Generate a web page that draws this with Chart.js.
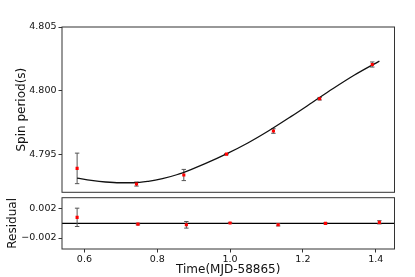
<!DOCTYPE html>
<html>
<head>
<meta charset="utf-8">
<script src="https://cdn.jsdelivr.net/npm/chart.js@4/dist/chart.umd.min.js"></script>
<style>
  html, body { margin: 0; padding: 0; background: #fff; }
  #wrap { position: relative; width: 415px; height: 277px; overflow: hidden; }
  #mainBox { position: absolute; left: 0; top: 0; width: 415px; height: 200px; }
  #resBox { position: absolute; left: 0; top: 190px; width: 415px; height: 87px; }
</style>
</head>
<body>
<div id="wrap">
  <div id="mainBox"><canvas id="mainChart"></canvas></div>
  <div id="resBox"><canvas id="resChart"></canvas></div>
</div>
<script>
// ---------- Data ----------
var timeDays = [0.580, 0.747, 0.880, 1.000, 1.132, 1.262, 1.410];
var spinPeriod = [4.79388, 4.79265, 4.79336, 4.79500, 4.79682, 4.79936, 4.80205];
var spinErr = [0.00120, 0.00016, 0.00044, 0.00005, 0.00018, 0.00010, 0.00020];
var residual = [0.00082, -0.00010, -0.00020, 0.00005, -0.00020, 0.00000, 0.00014];
var residualErr = [0.00125, 0.00010, 0.00045, 0.00003, 0.00015, 0.00008, 0.00022];

// fitted model curve, sampled by eye
var fitTime = [0.58, 0.62, 0.66, 0.70, 0.74, 0.78, 0.82, 0.86, 0.90, 0.94, 1.00, 1.06, 1.12, 1.18, 1.24, 1.30, 1.36, 1.43];
var fitPeriod = [4.79312, 4.79294, 4.79281, 4.79275, 4.79275, 4.79286, 4.79307, 4.79338, 4.79379, 4.79425,
                 4.79502, 4.79588, 4.79686, 4.79793, 4.79904, 4.80016, 4.80122, 4.80232];

// ticks
var periodTicks = [4.795, 4.800, 4.805];
var periodTickLabels = ['4.795', '4.800', '4.805'];
var residualTicks = [0.002, -0.002];
var residualTickLabels = ['0.002', '\u22120.002'];
var timeTicks = [0.6, 0.8, 1.0, 1.2, 1.4];
var timeTickLabels = ['0.6', '0.8', '1.0', '1.2', '1.4'];

// axis limits
var mainXRange = [0.5375, 1.4725];
var resXRange = [0.5385, 1.4515];
var periodRange = [4.792, 4.805];
var residualRange = [-0.0035, 0.0035];

var FONT = 'DejaVu Sans';
var AXIS_COLOR = '#333';

// ---------- Plugins ----------
// box round the plot area, like matplotlib spines
var framePlugin = {
    id: 'frame',
    afterDraw: function(chart) {
        var a = chart.chartArea;
        var ctx = chart.ctx;
        ctx.save();
        ctx.strokeStyle = AXIS_COLOR;
        ctx.lineWidth = 1;
        ctx.strokeRect(a.left, a.top, a.right - a.left, a.bottom - a.top);
        ctx.restore();
    }
};

// vertical error bars with caps, drawn under the points
var errorBarPlugin = {
    id: 'errorBars',
    beforeDatasetsDraw: function(chart) {
        var ctx = chart.ctx;
        var xs = chart.scales.x;
        var ys = chart.scales.y;
        ctx.save();
        ctx.strokeStyle = '#555';
        ctx.lineWidth = 1;
        chart.data.datasets.forEach(function(ds) {
            if (!ds.errors) return;
            ds.data.forEach(function(pt, i) {
                var e = ds.errors[i];
                var px = xs.getPixelForValue(pt.x);
                var top = ys.getPixelForValue(pt.y + e);
                var bot = ys.getPixelForValue(pt.y - e);
                ctx.beginPath();
                ctx.moveTo(px, top);
                ctx.lineTo(px, bot);
                ctx.moveTo(px - 2.2, top);
                ctx.lineTo(px + 2.2, top);
                ctx.moveTo(px - 2.2, bot);
                ctx.lineTo(px + 2.2, bot);
                ctx.stroke();
            });
        });
        ctx.restore();
    }
};

// zero line across the residual panel
var zeroLinePlugin = {
    id: 'zeroLine',
    beforeDatasetsDraw: function(chart) {
        var a = chart.chartArea;
        var y0 = chart.scales.y.getPixelForValue(0);
        var ctx = chart.ctx;
        ctx.save();
        ctx.strokeStyle = '#000';
        ctx.lineWidth = 1.3;
        ctx.beginPath();
        ctx.moveTo(a.left, y0);
        ctx.lineTo(a.right, y0);
        ctx.stroke();
        ctx.restore();
    }
};

function toPoints(xs, ys) {
    return xs.map(function(x, i) { return { x: x, y: ys[i] }; });
}

function setTicks(values) {
    return function(scale) {
        scale.ticks = values.map(function(v) { return { value: v }; });
    };
}

function tickLabel(values, labels) {
    return function(value) {
        for (var i = 0; i < values.length; i++) {
            if (Math.abs(values[i] - value) < 1e-9) return labels[i];
        }
        return '';
    };
}

Chart.defaults.font.family = FONT;
Chart.defaults.color = '#111';
Chart.defaults.animation = false;

// ---------- Main panel ----------
new Chart(document.getElementById('mainChart'), {
    type: 'scatter',
    data: {
        datasets: [{
            data: toPoints(timeDays, spinPeriod),
            errors: spinErr,
            pointStyle: 'rect',
            pointRadius: 2.2,
            backgroundColor: '#ff0000',
            borderWidth: 0,
            order: 0
        }, {
            data: toPoints(fitTime, fitPeriod),
            showLine: true,
            borderColor: '#111',
            borderWidth: 1.3,
            pointRadius: 0,
            cubicInterpolationMode: 'monotone',
            order: 1
        }]
    },
    options: {
        responsive: true,
        maintainAspectRatio: false,
        layout: { padding: { left: 0, right: 20.5, top: 27, bottom: 6.7 } },
        plugins: { legend: { display: false }, tooltip: { enabled: false } },
        scales: {
            x: {
                type: 'linear',
                min: mainXRange[0],
                max: mainXRange[1],
                display: false
            },
            y: {
                type: 'linear',
                min: periodRange[0],
                max: periodRange[1],
                afterBuildTicks: setTicks(periodTicks),
                afterFit: function(scale) { scale.width = 62; },
                border: { display: false },
                grid: { drawOnChartArea: false, drawTicks: true, tickLength: 3.5, color: AXIS_COLOR },
                ticks: { font: { size: 9.5 }, padding: 2, callback: tickLabel(periodTicks, periodTickLabels) },
                title: { display: true, text: 'Spin period(s)', font: { size: 12 }, padding: { top: 14.5, bottom: 0 } }
            }
        }
    },
    plugins: [errorBarPlugin, framePlugin]
});

// ---------- Residual panel ----------
new Chart(document.getElementById('resChart'), {
    type: 'scatter',
    data: {
        datasets: [{
            data: toPoints(timeDays, residual),
            errors: residualErr,
            pointStyle: 'rect',
            pointRadius: 2.2,
            backgroundColor: '#ff0000',
            borderWidth: 0
        }]
    },
    options: {
        responsive: true,
        maintainAspectRatio: false,
        layout: { padding: { left: 0, right: 20.5, top: 3.3, bottom: 0 } },
        plugins: { legend: { display: false }, tooltip: { enabled: false } },
        scales: {
            x: {
                type: 'linear',
                min: resXRange[0],
                max: resXRange[1],
                afterBuildTicks: setTicks(timeTicks),
                afterFit: function(scale) { scale.height = 28; },
                border: { display: false },
                grid: { drawOnChartArea: false, drawTicks: true, tickLength: 3.5, color: AXIS_COLOR },
                ticks: { font: { size: 9.5 }, padding: 1, maxRotation: 0, callback: tickLabel(timeTicks, timeTickLabels) },
                title: { display: true, text: 'Time(MJD-58865)', font: { size: 12 }, padding: { top: 0, bottom: 0 } }
            },
            y: {
                type: 'linear',
                min: residualRange[0],
                max: residualRange[1],
                afterBuildTicks: setTicks(residualTicks),
                afterFit: function(scale) { scale.width = 62; },
                border: { display: false },
                grid: { drawOnChartArea: false, drawTicks: true, tickLength: 3.5, color: AXIS_COLOR },
                ticks: { font: { size: 9.5 }, padding: 2, callback: tickLabel(residualTicks, residualTickLabels) },
                title: { display: true, text: 'Residual', font: { size: 12 }, padding: { top: 5.5, bottom: 0 } }
            }
        }
    },
    plugins: [zeroLinePlugin, errorBarPlugin, framePlugin]
});
</script>
</body>
</html>
